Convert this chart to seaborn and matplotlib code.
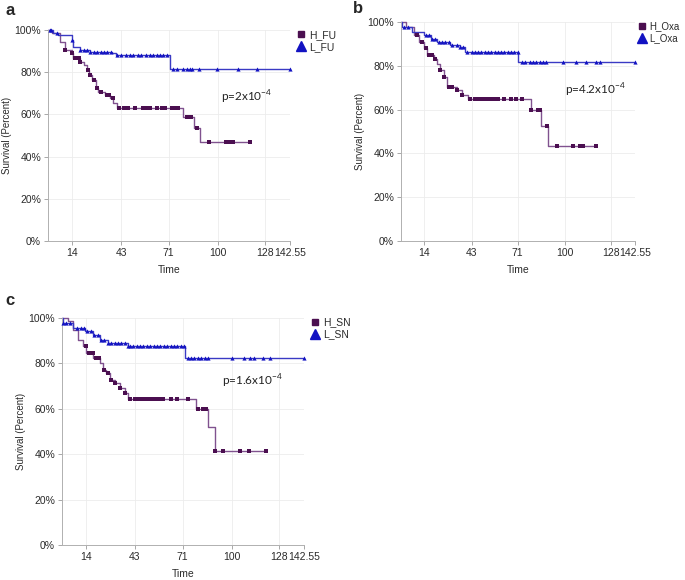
import numpy as np
import pandas as pd
import matplotlib
matplotlib.use("Agg")
import matplotlib.pyplot as plt
from matplotlib.lines import Line2D
import seaborn as sns

sns.set_style("white")
plt.rcParams['font.family'] = ['Liberation Sans', 'DejaVu Sans']

x_ticks = [14, 43, 71, 100, 128, 142.55]
x_tick_labels = ["14", "43", "71", "100", "128", "142.55"]
y_ticks = [0, 20, 40, 60, 80, 100]
y_tick_labels = ["0%", "20%", "40%", "60%", "80%", "100%"]

# panel a  (FU)
a_h_times = [0, 2.5, 7, 10, 14, 15, 19, 21, 23, 24, 26, 28, 29.6, 33.5, 36.5, 38.4, 40.8, 79.6, 86, 89.8]
a_h_surv = [100, 98.4, 94.5, 90.5, 89, 86.6, 85, 83.4, 81, 78.7, 76.3, 72.4, 70.8, 69.2, 67.6, 65.3, 62.9, 58.9, 53.7, 46.7]
a_h_end = 119
a_h_cens = [10, 14, 16, 18, 19, 23.5, 25, 27, 29, 31, 35, 36, 38, 42, 45, 47, 51, 56, 58, 60, 64, 67,
            69, 73, 75, 76.5, 82, 84.5, 88, 95, 105, 107, 109, 119]
a_l_times = [0, 3, 6, 14, 15, 19, 25, 37.5, 40, 72]
a_l_surv = [100, 98.4, 97.6, 95.3, 92, 90.5, 89.7, 89, 88.2, 81.4]
a_l_end = 142.55
a_l_cens = [1, 2, 5, 14, 19, 21, 23, 25, 27, 29, 31, 33, 35, 37, 40.5, 43, 46, 48, 50, 53, 55, 58, 60,
            62, 64, 66, 68, 70, 73.5, 76, 79.5, 82, 83.5, 85, 89, 99.5, 112, 123, 142.55]

# panel b  (Oxa)
b_h_times = [0, 2.8, 7.8, 10.8, 13.9, 15.9, 20, 22, 24, 26, 28, 34, 37, 41, 79, 85.5, 89.5]
b_h_surv = [100, 97.7, 94, 90.9, 87.9, 84.8, 83.3, 81, 78, 75, 70.4, 68.9, 66.6, 65, 60, 52.4, 43.6]
b_h_end = 119
b_h_cens = [10, 13, 15, 17, 19, 21, 24, 26, 29, 31, 34, 37, 42, 45, 47, 49, 51, 53, 55, 57, 59, 63,
            67, 70, 74, 79.5, 83.5, 84.5, 89, 95, 105, 109, 111, 119]
b_l_times = [0, 0.5, 7, 14, 18, 22, 30, 36, 39, 71.3]
b_l_surv = [100, 97.7, 95.4, 93.9, 92.4, 90.9, 89.4, 88.6, 86.3, 81.5]
b_l_end = 142.55
b_l_cens = [2, 4, 15, 17, 19, 21, 23, 25, 27, 29, 31, 34, 36, 38, 40, 43, 45, 47, 49, 51, 53, 55,
            57, 59, 61, 63, 65, 67, 69, 71, 73.5, 75.5, 78.5, 80.5, 82.5, 84.5, 86.5, 88.5, 98.5,
            106.5, 112.5, 118.5, 121.5, 142.55]

# panel c  (SN)
c_h_times = [0, 3.5, 6.5, 9.4, 12.4, 14.4, 18.3, 22.2, 24, 26, 28, 31, 34, 37, 39, 79.2, 86, 90]
c_h_surv = [100, 98.5, 94.8, 90.4, 87.5, 84.6, 82.4, 80, 77.2, 75.7, 72.8, 71.3, 69.1, 66.9, 64.3,
            59.9, 52.2, 41.6]
c_h_end = 120
c_h_cens = [14, 16, 18, 20, 22, 25, 27, 29, 31, 34, 37, 40, 43, 45, 47, 49, 51, 53, 55, 57, 59.5,
            64.5, 67.5, 74, 80, 83, 85, 90, 95, 105, 110, 120]
c_l_times = [0, 0.5, 6.5, 13.4, 18.3, 22.2, 27, 39, 72.3]
c_l_surv = [100, 97.8, 95.6, 94.1, 92.6, 90.4, 89, 87.5, 82.4]
c_l_end = 142.55
c_l_cens = [0.5, 2.5, 4.5, 9, 11, 13, 15, 17, 19, 21, 23, 25, 27, 29, 31, 33, 35, 37, 39, 40, 42,
            44, 46, 48, 50, 52, 54, 56, 58, 60, 62, 64, 66, 68, 70, 72, 74, 76, 78, 80, 82, 84, 86,
            100, 107, 111, 113, 118.5, 122.5, 142.55]

h_line = "#80528f"
h_mark = "#4b0f50"
l_line = "#3a3ac4"
l_mark = "#1212c2"


def draw_curve(ax, times, surv, end, cens, line_color, mark_color, marker, msize):
    steps = pd.DataFrame({"time": times + [end], "surv": surv + [surv[-1]]})
    sns.lineplot(data=steps, x="time", y="surv", ax=ax, color=line_color, lw=1.0,
                 drawstyle="steps-post", estimator=None, sort=False, clip_on=False)
    idx = np.searchsorted(times, cens, side="right") - 1
    pts = pd.DataFrame({"time": cens, "surv": np.array(surv)[idx]})
    sns.scatterplot(data=pts, x="time", y="surv", ax=ax, color=mark_color, marker=marker,
                    s=msize, linewidth=0, clip_on=False, zorder=3)


def setup_axes(ax, letter, names, ptext, ppos, leg_x, leg_fs):
    ax.set_xlim(0, 142.55)
    ax.set_ylim(0, 100)
    ax.set_xticks(x_ticks)
    ax.set_xticklabels(x_tick_labels)
    ax.set_yticks(y_ticks)
    ax.set_yticklabels(y_tick_labels)
    ax.grid(True, color="#ececec", lw=0.6)
    for s in ["top", "right"]:
        ax.spines[s].set_visible(False)
    for s in ["left", "bottom"]:
        ax.spines[s].set_color("#b0b0b0")
        ax.spines[s].set_linewidth(0.7)
    ax.tick_params(axis="both", labelsize=7.5, colors="#9a9a9a", labelcolor="#2a2a2a",
                   length=3, width=0.6, direction="out", bottom=True, left=True, pad=2)
    ax.set_xlabel("Time", fontsize=7.5, color="#2a2a2a", labelpad=5)
    ax.set_ylabel("Survival (Percent)", fontsize=7, color="#2a2a2a", labelpad=2)
    handles = [Line2D([], [], marker="s", color=h_mark, linestyle="None", markersize=5),
               Line2D([], [], marker="^", color=l_mark, linestyle="None", markersize=7)]
    ax.legend(handles, names, loc="upper left", bbox_to_anchor=(leg_x, 1.03), frameon=False,
              fontsize=leg_fs, handletextpad=0.25, labelspacing=0.2, handlelength=1.0,
              borderaxespad=0.2, labelcolor="#2a2a2a")
    ax.text(ppos[0], ppos[1], ptext, fontsize=8.5, family=["Lato", "DejaVu Sans"],
            color="#222222", ha="left", va="center")
    fig.text(letter[1], letter[2], letter[0], fontsize=12, fontweight="bold", ha="left", va="center")


fig = plt.figure(figsize=(6.85, 5.8), dpi=100)
ax_a = fig.add_axes([0.0701, 0.5845, 0.3533, 0.3638])
ax_b = fig.add_axes([0.5854, 0.5845, 0.3416, 0.3776])
ax_c = fig.add_axes([0.0905, 0.0603, 0.3533, 0.3914])

draw_curve(ax_a, a_h_times, a_h_surv, a_h_end, a_h_cens, h_line, h_mark, "s", 6)
draw_curve(ax_a, a_l_times, a_l_surv, a_l_end, a_l_cens, l_line, l_mark, "^", 9)
draw_curve(ax_b, b_h_times, b_h_surv, b_h_end, b_h_cens, h_line, h_mark, "s", 6)
draw_curve(ax_b, b_l_times, b_l_surv, b_l_end, b_l_cens, l_line, l_mark, "^", 9)
draw_curve(ax_c, c_h_times, c_h_surv, c_h_end, c_h_cens, h_line, h_mark, "s", 6)
draw_curve(ax_c, c_l_times, c_l_surv, c_l_end, c_l_cens, l_line, l_mark, "^", 9)

setup_axes(ax_a, ("a", 0.008, 0.982), ["H_FU", "L_FU"], r"p=2x10$^{\mathregular{-4}}$", (102, 68), 1.0, 7.5)
setup_axes(ax_b, ("b", 0.515, 0.985), ["H_Oxa", "L_Oxa"], r"p=4.2x10$^{\mathregular{-4}}$", (100, 69), 0.985, 7)
setup_axes(ax_c, ("c", 0.008, 0.482), ["H_SN", "L_SN"], r"p=1.6x10$^{\mathregular{-4}}$", (94, 72), 1.0, 7.5)

plt.savefig("out.png", dpi=100)
